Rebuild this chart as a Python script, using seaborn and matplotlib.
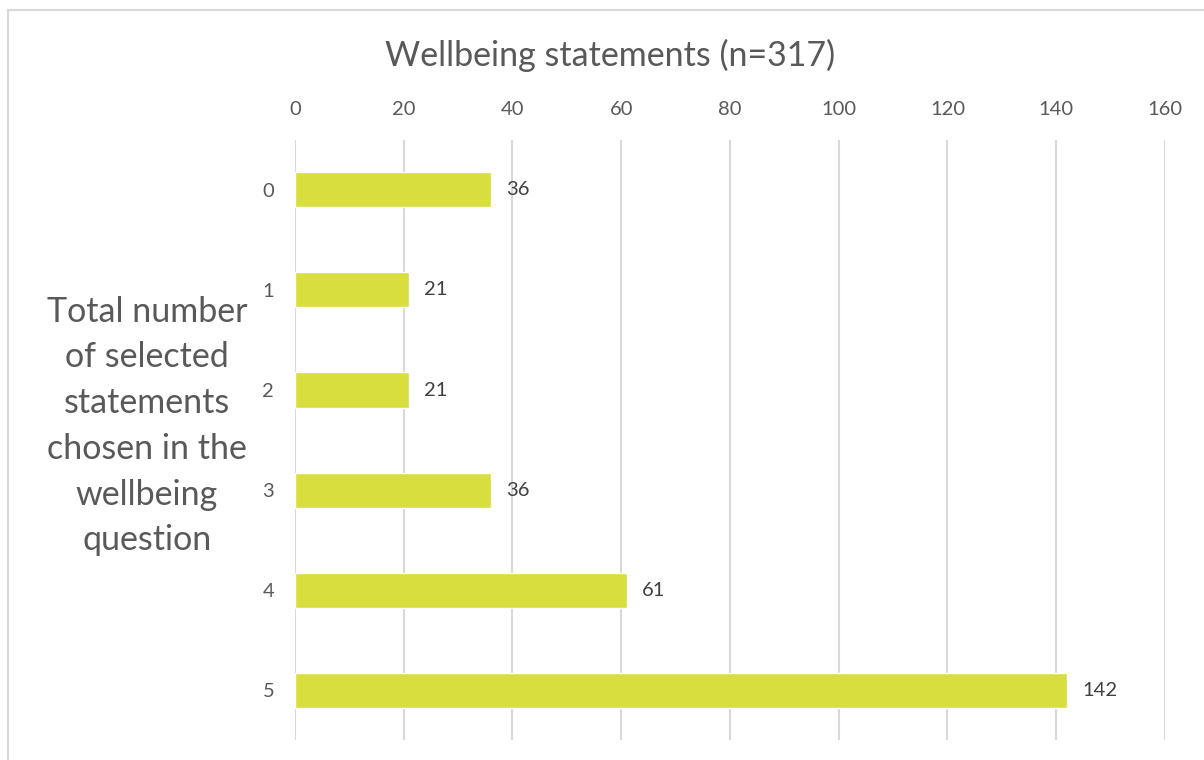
import matplotlib
matplotlib.use("Agg")
import matplotlib.pyplot as plt
import seaborn as sns
import pandas as pd
from matplotlib.patches import Rectangle

# ==========================================
# data
# ==========================================
categories = ["0", "1", "2", "3", "4", "5"]
counts = [36, 21, 21, 36, 61, 142]
x_ticks = [0, 20, 40, 60, 80, 100, 120, 140, 160]

TITLE = "Wellbeing statements (n=317)"
YLABEL = "Total number\nof selected\nstatements\nchosen in the\nwellbeing\nquestion"

BAR_COLOR = "#D9DE3F"
GRID_COLOR = "#D9D9D9"
TEXT_GRAY = "#595959"

sns.set_theme(style="white")
plt.rcParams["font.family"] = ["Lato", "DejaVu Sans"]

df = pd.DataFrame({"selected": categories, "count": counts})

fig = plt.figure(figsize=(12.04, 7.6), dpi=100)
ax = fig.add_axes([0.245, 0.0263, 0.7226, 0.7895])

sns.barplot(data=df, x="count", y="selected", order=categories,
            color=BAR_COLOR, width=0.35, saturation=1, ax=ax)

ax.set_xlim(0, 160)
ax.set_xticks(x_ticks)
ax.xaxis.tick_top()
ax.tick_params(axis="x", length=0, labelsize=14.5, labelcolor=TEXT_GRAY, pad=16)
ax.tick_params(axis="y", length=0, labelsize=14.5, labelcolor=TEXT_GRAY, pad=15)
ax.set_xlabel("")
ax.set_ylabel("")
ax.grid(axis="x", color=GRID_COLOR, linewidth=1.5)
ax.set_axisbelow(True)
for s in ax.spines.values():
    s.set_visible(False)

# value labels
for cont in ax.containers:
    ax.bar_label(cont, labels=[str(v) for v in counts], padding=11,
                 fontsize=14.5, color="#404040")

fig.text(610 / 1204, 1 - 55 / 760, TITLE, ha="center", va="center",
         fontsize=24.5, color=TEXT_GRAY)
fig.text(147 / 1204, 1 - 426 / 760, YLABEL, ha="center", va="center",
         fontsize=24.5, color=TEXT_GRAY, linespacing=1.53)

# chart border (runs off the right and bottom edges)
fig.patches.append(Rectangle((8 / 1204, -0.1), 1.2, 0.1 + 750 / 760,
                             transform=fig.transFigure, fill=False,
                             edgecolor=GRID_COLOR, linewidth=1.5))

fig.savefig("out.png", dpi=100)
